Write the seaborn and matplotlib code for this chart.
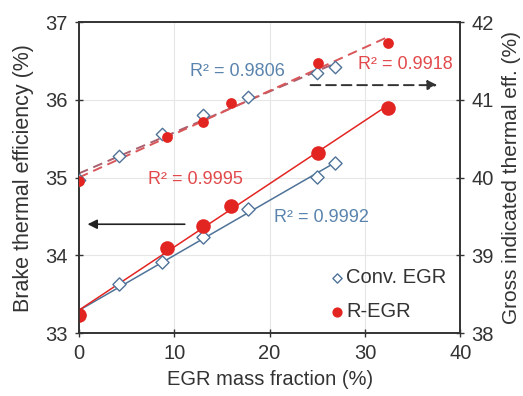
import numpy as np
import pandas as pd
import matplotlib
matplotlib.use("Agg")
import matplotlib.pyplot as plt
import seaborn as sns

# Brake thermal efficiency (left axis)
conv_x = [0, 4.2, 8.7, 13.0, 17.7, 25.0, 26.9]
conv_bte = [33.23, 33.63, 33.91, 34.23, 34.60, 35.01, 35.19]
regr_x = [0, 9.2, 13.0, 16.0, 25.1, 32.4]
regr_bte = [33.23, 34.09, 34.38, 34.63, 35.32, 35.90]

# Gross indicated thermal efficiency (right axis)
conv_git = [39.97, 40.28, 40.56, 40.80, 41.04, 41.34, 41.42]
regr_git = [39.96, 40.52, 40.71, 40.96, 41.47, 41.73]

r2_labels = ["R\u00b2 = 0.9806", "R\u00b2 = 0.9918", "R\u00b2 = 0.9995", "R\u00b2 = 0.9992"]
series_names = ["Conv. EGR", "R-EGR"]

sns.set_style("ticks")
plt.rcParams['font.family'] = ['Liberation Sans', 'DejaVu Sans']

BLUE = '#4f7398'
RED = '#e32522'
BLUE_T = '#5a84ad'
RED_T = '#e2494b'

fig = plt.figure(figsize=(5.23, 3.96), dpi=100)
ax = fig.add_axes([0.151, 0.159, 0.729, 0.785])
ax2 = ax.twinx()

conv_df = pd.DataFrame({'x': conv_x, 'bte': conv_bte, 'git': conv_git})
regr_df = pd.DataFrame({'x': regr_x, 'bte': regr_bte, 'git': regr_git})

# Trend lines
sns.regplot(data=conv_df, x='x', y='bte', ax=ax, scatter=False, ci=None, truncate=True,
            line_kws=dict(color=BLUE, lw=1.1, zorder=2))
sns.regplot(data=regr_df, x='x', y='bte', ax=ax, scatter=False, ci=None, truncate=True,
            line_kws=dict(color=RED, lw=1.1, zorder=2))
sns.regplot(data=conv_df, x='x', y='git', ax=ax2, scatter=False, ci=None, truncate=True,
            line_kws=dict(color='#a8606e', lw=1.4, ls=(0, (5, 3)), zorder=2))
sns.regplot(data=regr_df, x='x', y='git', ax=ax2, scatter=False, ci=None, truncate=True,
            line_kws=dict(color='#d9575a', lw=1.4, ls=(0, (5, 3)), zorder=2))

# Markers
sns.scatterplot(data=conv_df, x='x', y='bte', ax=ax, marker='D', s=45, facecolor='white',
                edgecolor=BLUE, linewidth=1.0, zorder=3, label=series_names[0])
sns.scatterplot(data=regr_df, x='x', y='bte', ax=ax, marker='o', s=110, color=RED,
                edgecolor=RED, linewidth=0, zorder=4, label=series_names[1])
sns.scatterplot(data=conv_df, x='x', y='git', ax=ax2, marker='D', s=40, facecolor='white',
                edgecolor=BLUE, linewidth=1.0, zorder=3, legend=False)
sns.scatterplot(data=regr_df, x='x', y='git', ax=ax2, marker='o', s=60, color=RED,
                edgecolor=RED, linewidth=0, zorder=4, legend=False)

ax.set_xlim(0, 40)
ax.set_ylim(33, 37)
ax2.set_ylim(38, 42)
ax.set_xticks([0, 10, 20, 30, 40])
ax.set_yticks([33, 34, 35, 36, 37])
ax2.set_yticks([38, 39, 40, 41, 42])

ax.grid(True, color='#e6e6e6', lw=0.8, zorder=0)
ax.set_axisbelow(True)

for a in (ax, ax2):
    a.tick_params(direction='inout', length=6, width=1, labelsize=14.5, colors='#333333',
                  labelcolor='#333333', pad=5)
    for sp in a.spines.values():
        sp.set_color('#333333')
        sp.set_linewidth(1.2)
        sp.set_visible(True)

ax.set_xlabel('EGR mass fraction (%)', fontsize=14.5, color='#333333', labelpad=5)
ax.set_ylabel('Brake thermal efficiency (%)', fontsize=15.5, color='#333333', labelpad=8)
ax2.set_ylabel('Gross indicated thermal eff. (%)', fontsize=15, color='#333333', labelpad=6)

# R2 annotations
ax.text(11.65, 36.36, r2_labels[0], color=BLUE_T, fontsize=13, va='center', ha='left')
ax.text(29.3, 36.45, r2_labels[1], color=RED_T, fontsize=13, va='center', ha='left')
ax.text(7.25, 34.97, r2_labels[2], color=RED_T, fontsize=13, va='center', ha='left')
ax.text(20.5, 34.49, r2_labels[3], color=BLUE_T, fontsize=13, va='center', ha='left')

# Arrows
ax.annotate('', xy=(0.9, 34.40), xytext=(11.1, 34.40),
            arrowprops=dict(arrowstyle='-|>', color='#222222', lw=1.2, mutation_scale=14,
                            shrinkA=0, shrinkB=0))
ax.annotate('', xy=(37.6, 36.19), xytext=(24.3, 36.19),
            arrowprops=dict(arrowstyle='-|>', color='#333333', lw=1.4, ls=(0, (5, 3)),
                            mutation_scale=14, shrinkA=0, shrinkB=0))

leg = ax.legend(loc='lower right', bbox_to_anchor=(0.995, 0.0), frameon=False,
                fontsize=14.5, handletextpad=0.05, handlelength=0.8, labelspacing=0.75,
                borderaxespad=0.2, markerscale=0.7)
for t in leg.get_texts():
    t.set_color('#333333')

fig.savefig('out.png', dpi=100)
